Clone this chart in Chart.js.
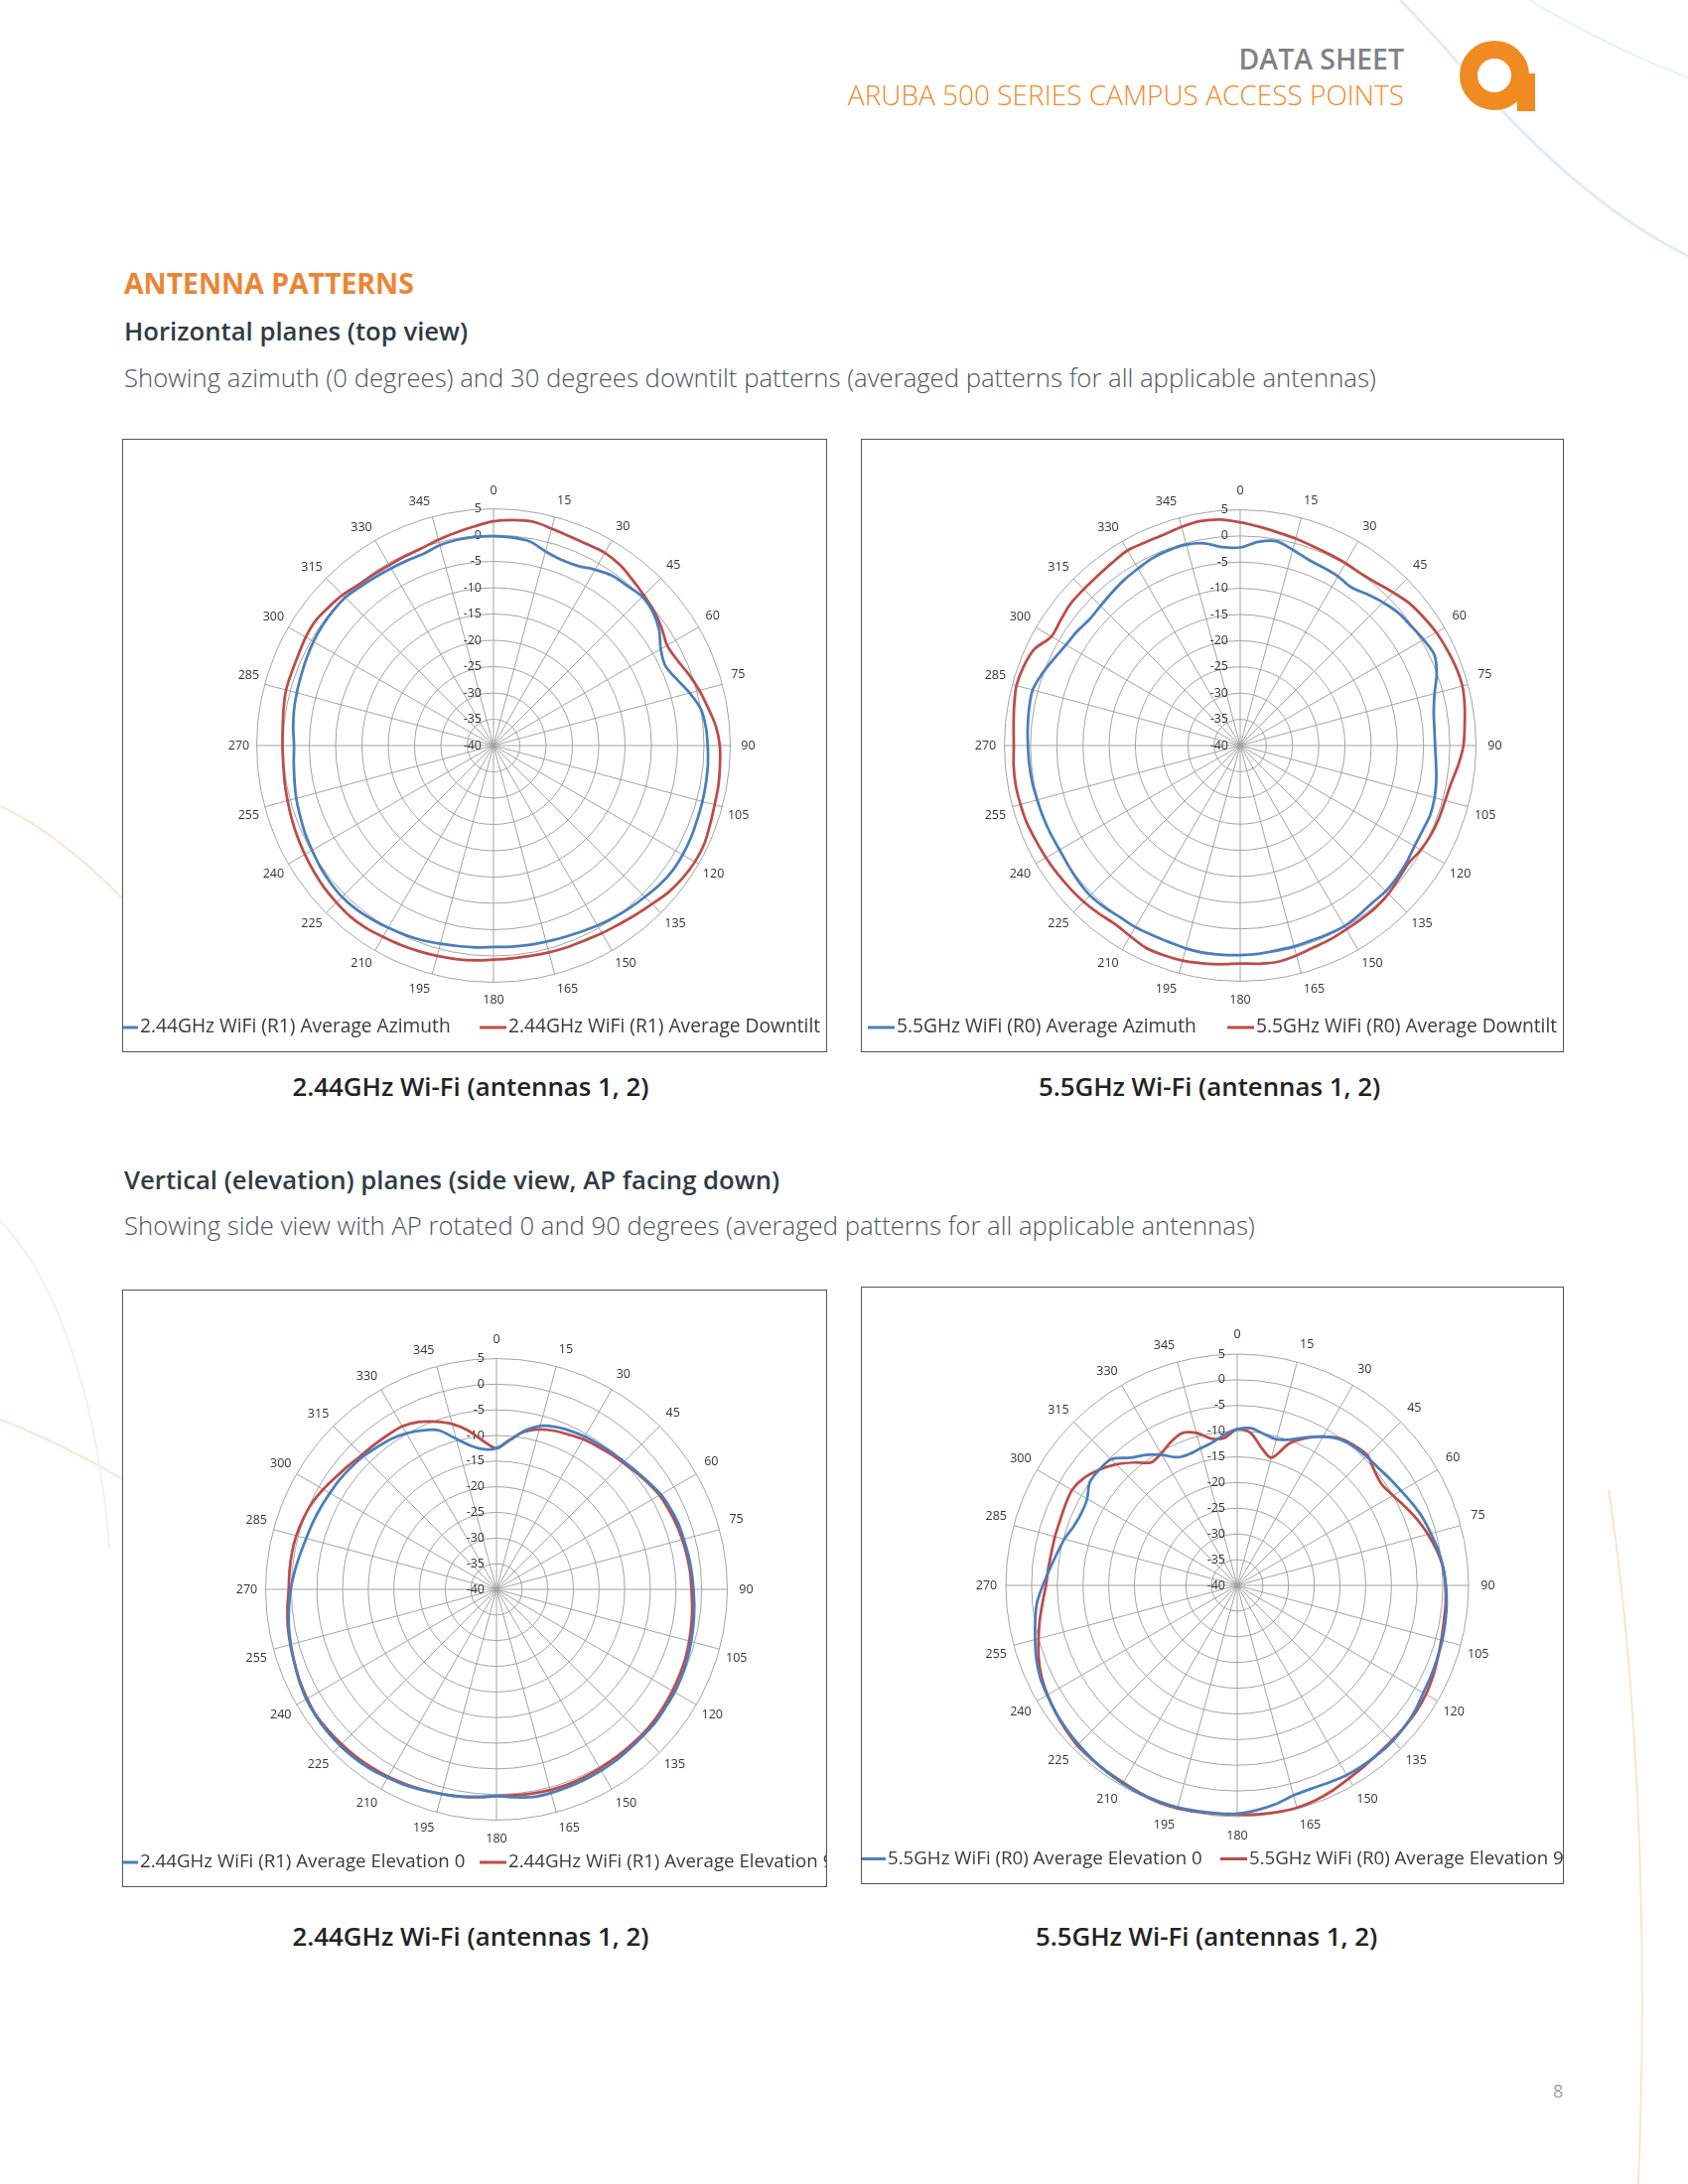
<!DOCTYPE html>
<html>
<head>
<meta charset="utf-8">
<script src="https://cdn.jsdelivr.net/npm/chart.js"></script>
<style>
  body { margin: 0; width: 1700px; height: 2200px; position: relative; overflow: hidden; background: #fff; font-family: 'Open Sans', sans-serif; }
  .t { position: absolute; white-space: nowrap; line-height: 1; }
  .box { position: absolute; border: 1px solid #555; box-sizing: border-box; overflow: hidden; background: #fff; }
  .box canvas { position: absolute; left: 0; top: 0; }
  #bg { position: absolute; left: 0; top: 0; }
  .cap { width: 600px; text-align: center; font-size: 25.8px; font-weight: 600; color: #222; }
  .h2 { left: 125px; font-size: 25.7px; font-weight: 600; color: #2f3b45; }
  .sub { left: 125px; font-size: 25.7px; font-weight: 300; color: #505559; }
</style>
</head>
<body>
<svg id="bg" width="1700" height="2200">
  <path d="M1410 0 C1480 70 1565 190 1700 258" stroke="#e3ecf2" stroke-width="3" fill="none"/>
  <path d="M1540 0 C1600 35 1650 60 1700 78" stroke="#e9f0f4" stroke-width="2" fill="none"/>
  <path d="M0 812 C40 830 90 870 123 905" stroke="#f7e6d4" stroke-width="2" fill="none"/>
  <path d="M0 1430 C40 1445 90 1470 123 1490" stroke="#f7e6d4" stroke-width="2" fill="none"/>
  <path d="M0 1230 C60 1290 100 1420 110 1560" stroke="#eef1f4" stroke-width="2" fill="none"/>
  <path d="M1620 1500 C1650 1700 1660 1950 1650 2200" stroke="#f7e6d4" stroke-width="2" fill="none"/>
</svg>

<div class="t" style="right:286px;top:45px;font-size:28.4px;font-weight:600;color:#808285;">DATA SHEET</div>
<div class="t" style="right:286px;top:81px;font-size:28px;font-weight:300;color:#ef8a2b;">ARUBA 500 SERIES CAMPUS ACCESS POINTS</div>
<svg class="t" style="left:1468px;top:38px;" width="80" height="76">
  <circle cx="37" cy="38" r="26" stroke="#f08a22" stroke-width="18" fill="none"/>
  <rect x="60" y="36" width="18" height="38" fill="#f08a22"/>
</svg>

<div class="t" style="left:125px;top:271px;font-size:28.4px;font-weight:700;color:#ec8434;">ANTENNA PATTERNS</div>
<div class="t h2" style="top:321px;">Horizontal planes (top view)</div>
<div class="t sub" style="top:368px;">Showing azimuth (0 degrees) and 30 degrees downtilt patterns (averaged patterns for all applicable antennas)</div>

<div class="t h2" style="top:1176px;">Vertical (elevation) planes (side view, AP facing down)</div>
<div class="t sub" style="top:1222px;">Showing side view with AP rotated 0 and 90 degrees (averaged patterns for all applicable antennas)</div>

<div class="t cap" style="left:174px;top:1082px;">2.44GHz Wi-Fi (antennas 1, 2)</div>
<div class="t cap" style="left:918px;top:1082px;">5.5GHz Wi-Fi (antennas 1, 2)</div>
<div class="t cap" style="left:174px;top:1938px;">2.44GHz Wi-Fi (antennas 1, 2)</div>
<div class="t cap" style="left:915px;top:1938px;">5.5GHz Wi-Fi (antennas 1, 2)</div>

<div class="t" style="left:1564px;top:2097px;font-size:18px;color:#a0a0a0;">8</div>

<div class="box" id="p1"><canvas id="c1"></canvas></div>
<div class="box" id="p2"><canvas id="c2"></canvas></div>
<div class="box" id="p3"><canvas id="c3"></canvas></div>
<div class="box" id="p4"><canvas id="c4"></canvas></div>

<script>
// angle categories (degrees, clockwise from top)
const angles = [0, 5, 10, 15, 20, 25, 30, 35, 40, 45, 50, 55,
  60, 65, 70, 75, 80, 85, 90, 95, 100, 105, 110, 115,
  120, 125, 130, 135, 140, 145, 150, 155, 160, 165, 170, 175,
  180, 185, 190, 195, 200, 205, 210, 215, 220, 225, 230, 235,
  240, 245, 250, 255, 260, 265, 270, 275, 280, 285, 290, 295,
  300, 305, 310, 315, 320, 325, 330, 335, 340, 345, 350, 355];

// gain scale (dB)
const gainMin = -40;
const gainMax = 5;
const gainStep = 5;
const spokeStep = 15;

// 2.44GHz horizontal
const azimuth24 = [-0.2, -0.3, -0.6, -1.8, -2.4, -2.3, -1.4, -0.6, -0.4, 0.0, -0.5, -1.6,
  -3.3, -4.0, -3.0, -1.4, 0.0, 0.5, 0.7, 0.9, 1.0, 1.1, 1.2, 1.4,
  1.5, 1.5, 1.2, 0.7, 0.3, -0.1, -0.5, -0.9, -1.2, -1.4, -1.5, -1.6,
  -1.7, -1.5, -1.3, -1.0, -0.6, -0.3, 0.0, 0.3, 0.6, 0.7, 0.5, 0.2,
  -0.2, -0.5, -0.9, -1.2, -1.6, -1.9, -2.1, -1.8, -1.5, -1.3, -1.1, -0.8,
  -0.5, -0.3, -0.2, -0.2, -0.6, -0.9, -1.1, -1.2, -1.2, -0.6, -0.3, -0.2];
const downtilt24 = [2.6, 3.0, 3.2, 2.7, 2.3, 2.2, 2.3, 1.9, 1.1, 0.4, -0.2, -1.0,
  -1.9, -1.5, -0.5, 0.5, 1.4, 2.4, 3.0, 3.2, 3.4, 3.5, 3.8, 4.2,
  4.2, 3.9, 3.4, 2.6, 2.0, 1.5, 1.2, 0.9, 0.8, 0.7, 0.6, 0.6,
  0.7, 1.0, 1.2, 1.4, 1.6, 1.8, 2.0, 2.3, 2.4, 2.2, 2.0, 1.7,
  1.4, 1.1, 0.8, 0.5, 0.3, 0.1, 0.1, 0.2, 0.5, 0.8, 0.8, 0.9,
  1.2, 1.3, 0.9, 0.5, -0.1, -0.3, -0.4, -0.3, -0.1, 0.5, 1.1, 1.8];

// 5.5GHz horizontal
const azimuth55 = [-2.2, -1.0, -0.4, -1.3, -2.2, -2.5, -2.7, -3.1, -2.3, -1.4, -0.6, -0.2,
  0.4, 0.9, -0.1, -1.6, -2.5, -2.8, -2.8, -2.5, -2.0, -1.6, -1.4, -1.6,
  -1.6, -1.2, -0.9, -0.7, -0.8, -0.5, -0.2, -0.3, -0.4, -0.3, -0.3, -0.1,
  0.0, 0.1, 0.2, 0.1, -0.1, -0.1, 0.0, 0.0, 0.3, 0.5, 0.3, 0.0,
  -0.2, -0.1, 0.0, 0.1, 0.3, 0.4, 0.5, 0.7, 0.9, 1.0, 0.2, -0.8,
  -1.6, -2.0, -2.5, -2.3, -1.9, -1.4, -1.0, -0.5, -0.3, -0.3, -0.8, -2.0];
const downtilt55 = [2.6, 1.9, 1.3, 0.9, 0.5, 0.3, 0.2, 0.1, 0.5, 1.3, 2.2, 2.7,
  3.2, 3.5, 3.8, 3.9, 3.5, 3.0, 2.6, 1.8, 0.9, 0.5, 0.4, 0.2,
  -0.2, -0.8, -0.5, 0.0, 0.3, 0.4, 0.5, 0.8, 1.0, 1.5, 1.9, 1.8,
  1.6, 1.9, 2.2, 2.5, 2.6, 2.6, 2.0, 1.6, 1.9, 2.2, 2.4, 2.6,
  2.8, 3.0, 3.3, 3.4, 3.5, 3.4, 3.2, 3.4, 3.8, 4.2, 4.0, 3.4,
  1.6, 1.8, 2.2, 2.2, 2.3, 2.6, 3.0, 2.8, 2.8, 3.2, 3.5, 3.3];

// 2.44GHz vertical
const elev0_24 = [-12.5, -10.8, -8.6, -7.0, -6.3, -5.9, -5.6, -5.4, -5.1, -4.8, -4.3, -3.7,
  -3.0, -2.6, -2.3, -2.2, -2.0, -1.8, -1.6, -1.3, -1.0, -0.7, -0.4, -0.1,
  0.1, 0.2, 0.4, 0.4, 0.5, 0.7, 0.8, 0.9, 1.0, 1.1, 1.1, 0.7,
  0.3, 0.6, 1.0, 1.3, 1.7, 2.1, 2.4, 2.8, 3.0, 3.1, 3.1, 3.0,
  2.8, 2.4, 1.9, 1.5, 1.1, 0.6, 0.1, -0.5, -1.1, -1.6, -1.9, -2.2,
  -2.5, -2.7, -3.0, -3.3, -3.8, -4.2, -4.9, -5.8, -7.0, -9.6, -11.6, -12.6];
const elev90_24 = [-12.5, -10.8, -8.8, -7.7, -7.1, -6.7, -6.2, -5.9, -5.5, -5.1, -4.5, -3.9,
  -3.3, -3.0, -2.7, -2.5, -2.3, -2.1, -2.0, -1.7, -1.4, -1.1, -0.8, -0.6,
  -0.4, -0.2, 0.0, 0.1, 0.1, 0.2, 0.3, 0.4, 0.5, 0.5, 0.4, 0.3,
  0.3, 0.7, 1.0, 1.3, 1.6, 1.9, 2.2, 2.4, 2.6, 2.7, 2.8, 2.9,
  2.6, 2.3, 1.9, 1.6, 1.3, 0.9, 0.5, 0.5, 0.5, 0.4, 0.1, -0.3,
  -1.0, -1.8, -2.4, -2.9, -3.1, -3.2, -3.3, -4.0, -5.2, -6.6, -8.6, -11.0];

// 5.5GHz vertical
const elev0_55 = [-9.6, -9.3, -10.1, -10.6, -9.8, -8.2, -6.6, -5.3, -4.7, -4.5, -4.3, -3.8,
  -3.2, -2.4, -1.6, -1.0, -0.3, 0.2, 0.6, 0.9, 1.1, 1.3, 1.4, 1.6,
  1.8, 2.3, 2.6, 2.8, 2.8, 2.7, 2.6, 2.3, 2.1, 2.3, 3.2, 3.9,
  4.4, 4.5, 4.6, 4.7, 4.7, 4.7, 4.5, 4.3, 4.0, 3.7, 3.4, 3.1,
  2.7, 2.3, 1.6, 0.7, -0.1, -0.9, -2.2, -3.4, -4.4, -5.2, -6.2, -6.6,
  -6.3, -5.0, -5.0, -5.3, -7.6, -9.0, -10.7, -12.5, -12.8, -12.4, -11.8, -10.6];
const elev90_55 = [-9.6, -10.2, -12.8, -14.3, -10.7, -8.4, -6.6, -5.1, -4.5, -4.2, -5.2, -5.7,
  -5.0, -3.9, -2.7, -1.6, -0.6, 0.2, 0.5, 0.7, 0.8, 1.1, 1.5, 2.0,
  2.4, 2.6, 2.6, 2.6, 2.7, 3.0, 3.4, 4.0, 4.5, 4.8, 4.8, 4.7,
  4.6, 4.6, 4.7, 4.9, 4.9, 4.6, 4.3, 4.2, 4.1, 4.0, 3.6, 3.1,
  2.6, 2.0, 1.1, 0.0, -1.0, -2.0, -2.8, -3.1, -3.3, -3.3, -3.3, -3.1,
  -2.9, -3.6, -5.0, -6.7, -8.8, -10.8, -10.4, -9.3, -8.5, -9.3, -11.0, -11.2];

const BLUE = '#4a7ebb';
const RED = '#be4b48';
const FONT = "'Open Sans', sans-serif";
const LABEL_SIZE = 12.5;
const LABEL_LH = LABEL_SIZE * 1.2;
const DIGIT_W = LABEL_SIZE * 0.572;

const panels = [
  { canvas: 'c1', box: [123, 442, 710, 618], centre: [496.7, 751.3], radius: 238, labelGap: 18,
    legendY: 1035, legendX: [-11, 360], legendSize: 19.2,
    names: ['2.44GHz WiFi (R1) Average Azimuth', '2.44GHz WiFi (R1) Average Downtilt'],
    series: [azimuth24, downtilt24] },
  { canvas: 'c2', box: [867, 442, 708, 618], centre: [1248.7, 751.3], radius: 237, labelGap: 19,
    legendY: 1035, legendX: [7, 369], legendSize: 19.2,
    names: ['5.5GHz WiFi (R0) Average Azimuth', '5.5GHz WiFi (R0) Average Downtilt'],
    series: [azimuth55, downtilt55] },
  { canvas: 'c3', box: [123, 1299, 710, 602], centre: [500, 1601.3], radius: 232, labelGap: 19,
    legendY: 1876, legendX: [-11, 360], legendSize: 18.7,
    names: ['2.44GHz WiFi (R1) Average Elevation 0', '2.44GHz WiFi (R1) Average Elevation 90'],
    series: [elev0_24, elev90_24] },
  { canvas: 'c4', box: [867, 1296, 708, 602], centre: [1246, 1596.5], radius: 232.5, labelGap: 19.5,
    legendY: 1872.5, legendX: [-2, 362], legendSize: 18.7,
    names: ['5.5GHz WiFi (R0) Average Elevation 0', '5.5GHz WiFi (R0) Average Elevation 90'],
    series: [elev0_55, elev90_55] },
];

// Excel-style legend: short line + text, clipped by the chart frame
const lineLegend = {
  id: 'lineLegend',
  afterDraw(chart, args, opts) {
    const ctx = chart.ctx;
    ctx.save();
    ctx.font = opts.font;
    ctx.textBaseline = 'middle';
    ctx.textAlign = 'left';
    chart.data.datasets.forEach((ds, i) => {
      const x = opts.x[i];
      ctx.strokeStyle = ds.borderColor;
      ctx.lineWidth = 3;
      ctx.beginPath();
      ctx.moveTo(x, opts.y);
      ctx.lineTo(x + 27, opts.y);
      ctx.stroke();
      ctx.fillStyle = '#3a3a3a';
      ctx.fillText(ds.label, x + 29, opts.y);
    });
    ctx.restore();
  }
};

// gain labels sit left of the 0 degree spoke
const axisTicks = {
  id: 'axisTicks',
  beforeDatasetsDraw(chart) {
    const r = chart.scales.r;
    const ctx = chart.ctx;
    ctx.save();
    ctx.font = LABEL_SIZE + 'px ' + FONT;
    ctx.fillStyle = '#333';
    ctx.textAlign = 'right';
    ctx.textBaseline = 'middle';
    r.ticks.forEach(t => {
      const d = r.getDistanceFromCenterForValue(t.value);
      ctx.fillText(String(t.value), r.xCenter - 12, r.yCenter - d);
    });
    ctx.restore();
  }
};

function drawPanel(p) {
  const [bx, by, bw, bh] = p.box;
  const box = document.getElementById(p.canvas).parentElement;
  Object.assign(box.style, { left: bx + 'px', top: by + 'px', width: bw + 'px', height: bh + 'px' });

  const cw = bw - 2, ch = bh - 2;
  const cx = p.centre[0] - bx - 1, cy = p.centre[1] - by - 1;
  const h = 2 * Math.round(p.radius + p.labelGap + LABEL_LH / 2);
  const w = h + 64;
  const left = Math.round(cx - w / 2), top = Math.round(cy - h / 2);

  const canvas = document.getElementById(p.canvas);
  canvas.width = cw;
  canvas.height = ch;

  new Chart(canvas, {
    type: 'radar',
    data: {
      labels: angles,
      datasets: p.series.map((values, i) => ({
        label: p.names[i],
        data: values,
        borderColor: i === 0 ? BLUE : RED,
        borderWidth: 2.75,
        fill: false,
        pointRadius: 0,
        tension: 0.3,
      }))
    },
    plugins: [lineLegend, axisTicks],
    options: {
      responsive: false,
      animation: false,
      layout: { padding: { left, top, right: cw - left - w, bottom: ch - top - h } },
      plugins: {
        legend: { display: false },
        tooltip: { enabled: false },
        lineLegend: { x: p.legendX.map(v => v - 1), y: p.legendY - by - 1, font: p.legendSize + 'px ' + FONT },
      },
      scales: {
        r: {
          min: gainMin,
          max: gainMax,
          ticks: { stepSize: gainStep, display: false },
          grid: { circular: true, color: '#a3a3a3', lineWidth: 1 },
          angleLines: {
            color: '#a3a3a3',
            lineWidth: c => (angles[c.index] % spokeStep === 0 ? 1 : 0),
          },
          pointLabels: {
            font: { family: FONT, size: LABEL_SIZE },
            color: '#333',
            callback: v => (v % spokeStep === 0 ? String(v) : ''),
            padding: c => {
              if (!c.label) return 0;
              const a = angles[c.index] * Math.PI / 180;
              const tw = c.label.length * DIGIT_W;
              return p.labelGap - (tw / 2 * Math.abs(Math.sin(a)) + LABEL_LH / 2 * Math.abs(Math.cos(a)));
            },
          },
        }
      }
    }
  });
}

panels.forEach(drawPanel);
</script>
</body>
</html>
